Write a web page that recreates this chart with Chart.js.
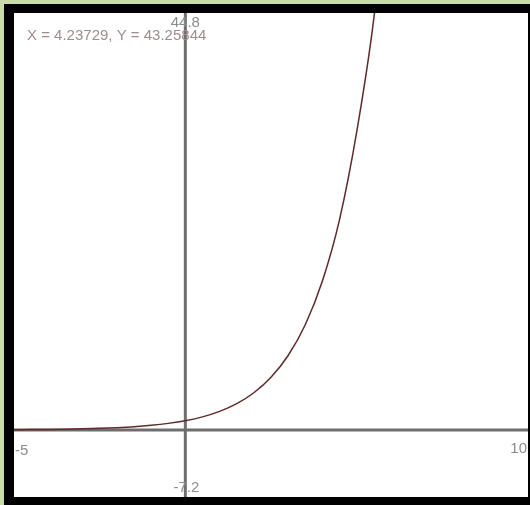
<!DOCTYPE html>
<html>
<head>
<meta charset="utf-8">
<script src="https://cdn.jsdelivr.net/npm/chart.js@4"></script>
<style>
  body { margin: 0; background: #c8dba8; width: 530px; height: 505px; overflow: hidden; }
  #frame { position: absolute; left: 4px; top: 4px; width: 526px; height: 501px; background: #000; }
  #wrap { position: absolute; left: 14px; top: 13px; width: 514px; height: 484px; background: #fff; }
</style>
</head>
<body>
<div id="frame"></div>
<div id="wrap"><canvas id="c"></canvas></div>
<script>
const xValues = [-5, -4.5, -4, -3.5, -3, -2.5, -2, -1.5, -1, -0.5, 0, 0.5, 1, 1.5, 2, 2.5, 3, 3.5, 4, 4.5, 5, 5.5, 6];
const yValues = [0.03, 0.04, 0.06, 0.09, 0.13, 0.18, 0.25, 0.35, 0.5, 0.71, 1, 1.41, 2, 2.83, 4, 5.66, 8, 11.3, 16, 22.6, 32, 44.2, 62];
const xRange = [-5, 10];
const yRange = [-7.2, 44.8];
const cursorText = 'X = 4.23729, Y = 43.25844';

const points = xValues.map((x, i) => ({ x: x, y: yValues[i] }));

const axesPlugin = {
  id: 'axes',
  beforeDatasetsDraw(chart) {
    const { ctx, chartArea, scales } = chart;
    const x0 = scales.x.getPixelForValue(0);
    const y0 = scales.y.getPixelForValue(0);
    ctx.save();
    ctx.strokeStyle = '#6e6e6e';
    ctx.lineWidth = 3;
    ctx.beginPath();
    ctx.moveTo(x0, chartArea.top);
    ctx.lineTo(x0, chartArea.bottom);
    ctx.moveTo(chartArea.left, y0);
    ctx.lineTo(chartArea.right, y0);
    ctx.stroke();
    ctx.restore();
  },
  afterDraw(chart) {
    const { ctx, chartArea, scales } = chart;
    const x0 = scales.x.getPixelForValue(0);
    const y0 = scales.y.getPixelForValue(0);
    ctx.save();
    ctx.font = '15px "Liberation Sans", Arial, sans-serif';
    ctx.fillStyle = '#8c8c8c';
    ctx.textBaseline = 'middle';
    ctx.textAlign = 'center';
    ctx.fillText(String(yRange[1]), x0, chartArea.top + 10);
    ctx.fillText(String(yRange[0]), x0 + 1, chartArea.bottom - 9);
    ctx.textAlign = 'left';
    ctx.fillText(String(xRange[0]), chartArea.left + 1, y0 + 21);
    ctx.textAlign = 'right';
    ctx.fillText(String(xRange[1]), chartArea.right - 1, y0 + 19);
    ctx.fillStyle = '#a08c8c';
    ctx.textAlign = 'left';
    ctx.fillText(cursorText, chartArea.left + 13, chartArea.top + 23);
    ctx.restore();
  }
};

new Chart(document.getElementById('c'), {
  type: 'scatter',
  data: {
    datasets: [{
      data: points,
      showLine: true,
      borderColor: '#5e2a2c',
      borderWidth: 1.5,
      pointRadius: 0,
      cubicInterpolationMode: 'monotone',
      fill: false
    }]
  },
  options: {
    responsive: true,
    maintainAspectRatio: false,
    animation: false,
    layout: { padding: 0 },
    plugins: { legend: { display: false }, tooltip: { enabled: false } },
    scales: {
      x: { type: 'linear', min: xRange[0], max: xRange[1], display: false },
      y: { type: 'linear', min: yRange[0], max: yRange[1], display: false }
    }
  },
  plugins: [axesPlugin]
});
</script>
</body>
</html>
